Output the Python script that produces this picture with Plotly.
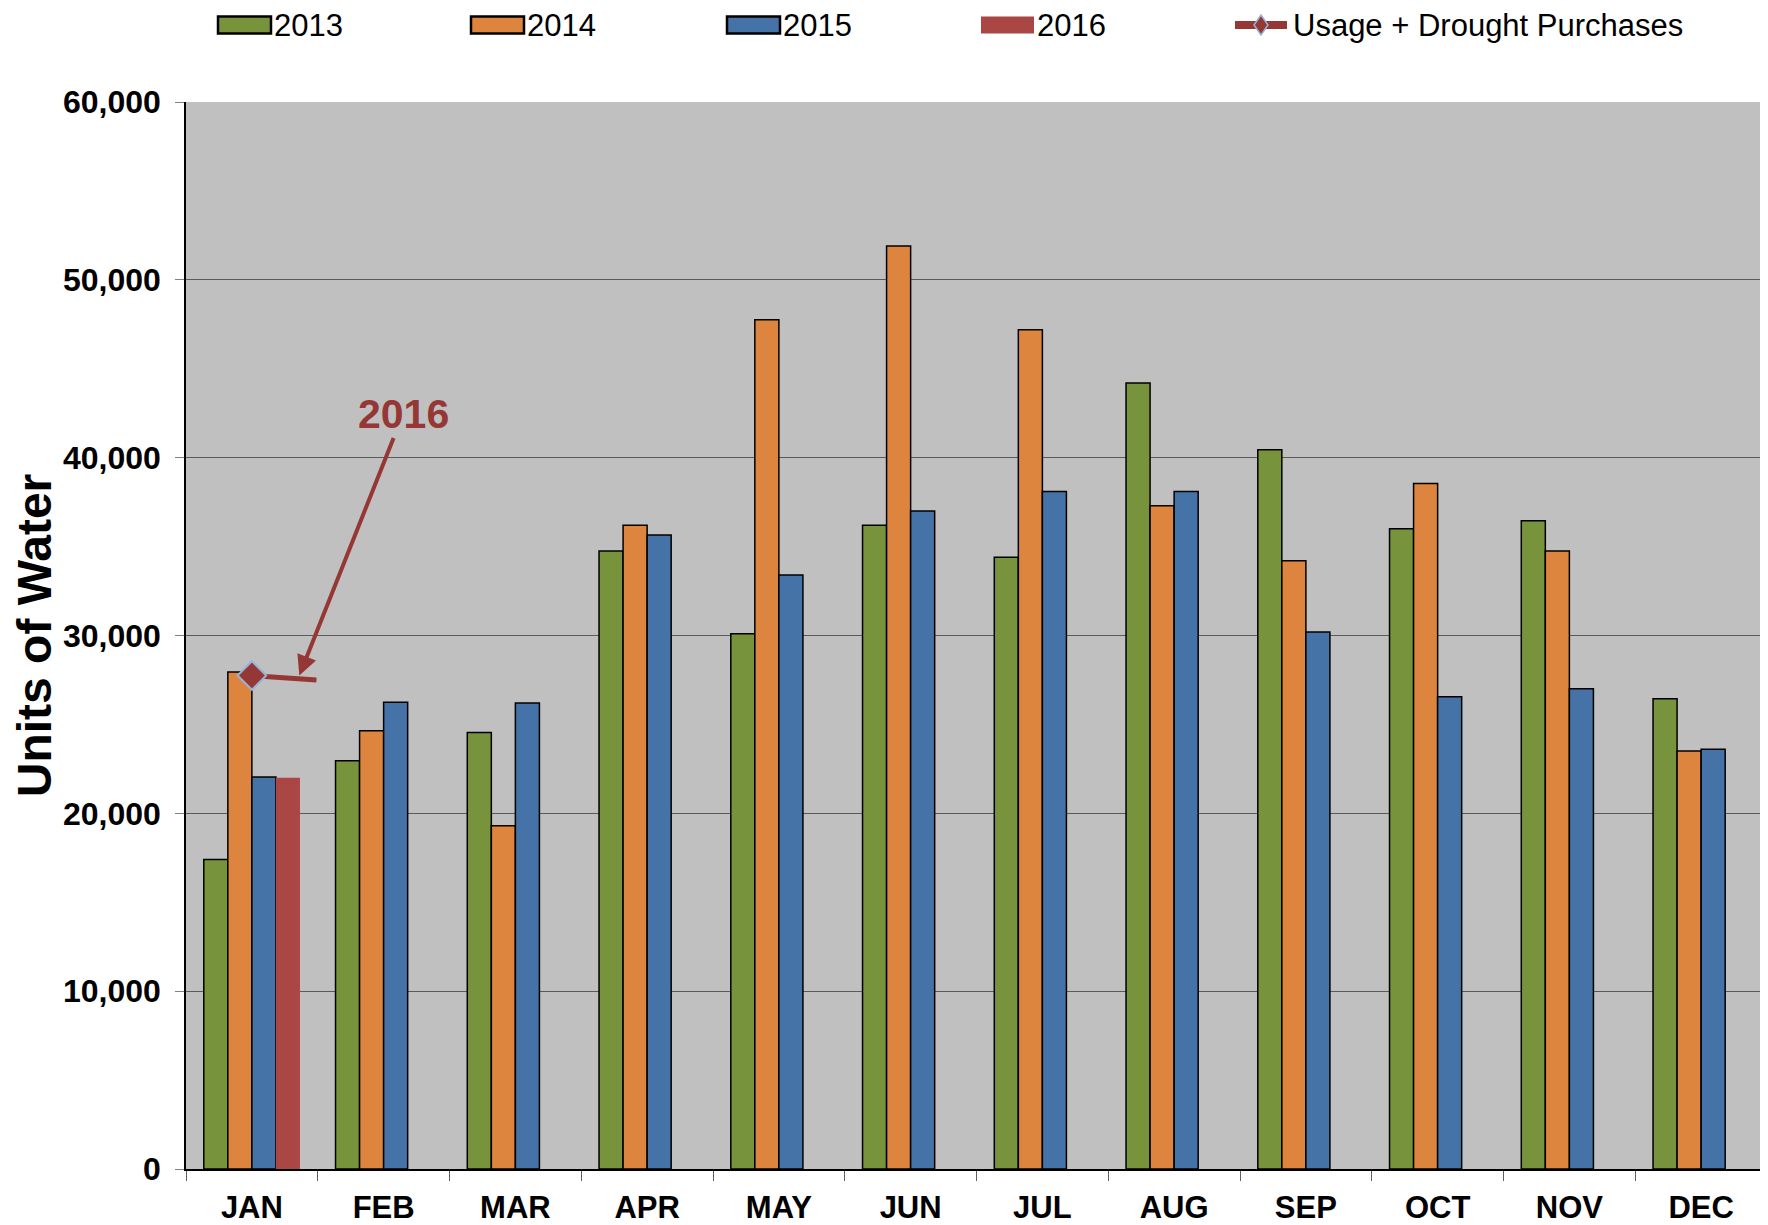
import plotly.graph_objects as go

months = ["JAN", "FEB", "MAR", "APR", "MAY", "JUN", "JUL", "AUG", "SEP", "OCT", "NOV", "DEC"]
y2013 = [17400, 22950, 24550, 34750, 30100, 36200, 34400, 44200, 40450, 36000, 36450, 26450]
y2014 = [27950, 24650, 19300, 36200, 47750, 51900, 47200, 37300, 34200, 38550, 34750, 23500]
y2015 = [22050, 26250, 26200, 35650, 33400, 37000, 38100, 38100, 30200, 26550, 27000, 23600]
y2016 = [22000, None, None, None, None, None, None, None, None, None, None, None]
usage = [27750, None, None, None, None, None, None, None, None, None, None, None]
usage_tail_end = 27500  # end level of the short callout segment
yticks = [0, 10000, 20000, 30000, 40000, 50000, 60000]
ytick_text = ["0", "10,000", "20,000", "30,000", "40,000", "50,000", "60,000"]
series_names = ["2013", "2014", "2015", "2016"]
line_name = "Usage + Drought Purchases"

FONT = "Liberation Sans, Arial, sans-serif"
RED = "#953735"
COLORS = ["#77933C", "#DD843F", "#4573A7", "#AA4643"]
OUTLINES = [1.5, 1.5, 1.5, 0]

W, H = 1768, 1225
PAGE_OFF = 8  # default page body margin shifts the figure by this much
# target plot-area edges on the page
P_LEFT, P_RIGHT, P_TOP, P_BOTTOM = 186, 1767, 102, 1169
ML = P_LEFT - PAGE_OFF
MT = P_TOP - PAGE_OFF
MR = W + PAGE_OFF - P_RIGHT
MB = H + PAGE_OFF - P_BOTTOM
PW, PH = P_RIGHT - P_LEFT, P_BOTTOM - P_TOP


def px(x):
    return (x - P_LEFT) / PW


def py(y):
    return (P_BOTTOM - y) / PH


fig = go.Figure()
for name, vals, col, lw in zip(series_names, [y2013, y2014, y2015, y2016], COLORS, OUTLINES):
    fig.add_trace(go.Bar(x=months, y=vals, name=name, showlegend=False,
                         marker=dict(color=col, line=dict(color="black", width=lw))))

fig.add_trace(go.Scatter(x=months, y=usage, name=line_name, mode="lines+markers", showlegend=False,
                         line=dict(color=RED, width=5),
                         marker=dict(symbol="diamond", size=22, color=RED, line=dict(color="#95B3D7", width=2))))

# short callout segment from the JAN usage marker
fig.add_shape(type="line", xref="x", yref="y", x0=0, x1=0.49, y0=usage[0], y1=usage_tail_end,
              line=dict(color=RED, width=5), layer="below")

fig.add_annotation(x=0.36, y=usage[0], xref="x", yref="y", text="<b>2016</b>",
                   showarrow=True, ax=104, ay=-262, arrowhead=2, arrowsize=1, arrowwidth=4,
                   arrowcolor=RED, font=dict(family=FONT, size=41, color=RED))

# legend drawn at the top
leg_swatch_left = [218, 471, 727, 981]
leg_y = 25
for name, col, lw, xl in zip(series_names, COLORS, OUTLINES, leg_swatch_left):
    fig.add_shape(type="rect", xref="paper", yref="paper", x0=px(xl), x1=px(xl + 53),
                  y0=py(leg_y - 8.5), y1=py(leg_y + 8.5), fillcolor=col,
                  line=dict(color="black", width=2.5 if lw else 0))
    fig.add_annotation(xref="paper", yref="paper", x=px(xl + 54), y=py(leg_y), text=name,
                       showarrow=False, xanchor="left", yanchor="middle",
                       font=dict(family=FONT, size=31, color="black"))
fig.add_shape(type="line", xref="paper", yref="paper", x0=px(1235), x1=px(1287),
              y0=py(leg_y), y1=py(leg_y), line=dict(color=RED, width=8))
fig.add_shape(type="path", xref="paper", yref="paper", xsizemode="pixel", ysizemode="pixel",
              xanchor=px(1261), yanchor=py(leg_y), path="M-7,0 L0,10 L7,0 L0,-10 Z",
              fillcolor=RED, line=dict(color="#95B3D7", width=1.5))
fig.add_annotation(xref="paper", yref="paper", x=px(1291), y=py(leg_y), text=line_name,
                   showarrow=False, xanchor="left", yanchor="middle",
                   font=dict(family=FONT, size=31, color="black"))

fig.update_layout(
    width=W, height=H,
    margin=dict(l=ML, r=MR, t=MT, b=MB, autoexpand=False),
    paper_bgcolor="white", plot_bgcolor="#C0C0C0",
    barmode="group", bargap=0.27, bargroupgap=0,
    font=dict(family=FONT, color="black"),
    showlegend=False,
    yaxis=dict(range=[0, 60000], tickvals=yticks, ticktext=["<b>%s</b>" % t for t in ytick_text],
               showgrid=True, gridcolor="#5A5A5A", gridwidth=1, ticks="outside", ticklen=9,
               tickcolor="#808080", showline=True, linecolor="black", linewidth=1.5, zeroline=False,
               tickfont=dict(size=32, family=FONT), ticklabelstandoff=8, automargin=False,
               title=dict(text="<b>Units of Water</b>", font=dict(size=48, family=FONT), standoff=1)),
    xaxis=dict(type="category", range=[-0.5, 11.5], tickson="boundaries", ticks="outside", ticklen=10,
               tickcolor="#606060", showline=True, linecolor="black", linewidth=1.5, showgrid=False,
               tickfont=dict(size=31, family=FONT), ticklabelstandoff=10, automargin=False,
               tickvals=months, ticktext=["<b>%s</b>" % m for m in months]),
)

fig.write_html("out.html")
